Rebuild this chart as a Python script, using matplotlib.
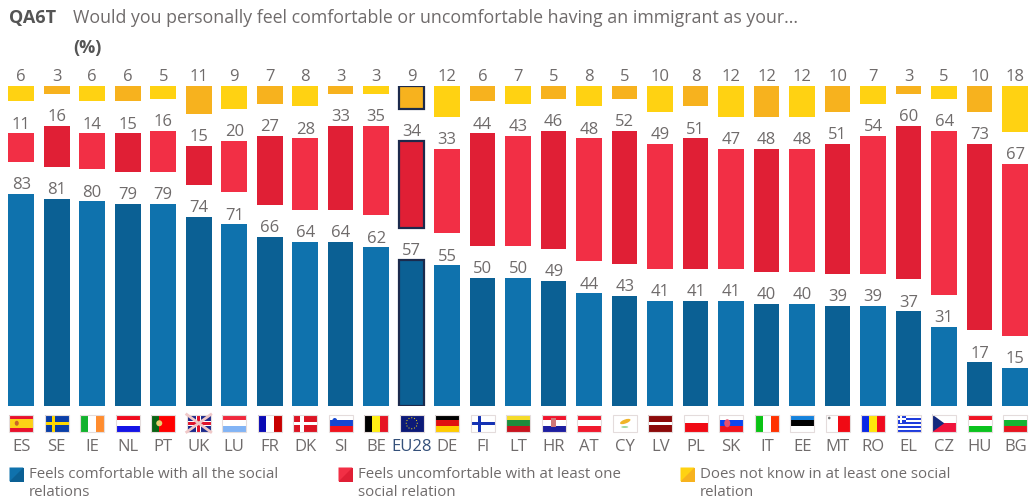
import numpy as np
import matplotlib
matplotlib.use("Agg")
import matplotlib.pyplot as plt
from matplotlib.patches import Rectangle, Polygon, Circle, Ellipse

plt.rcParams['font.family'] = ['Open Sans', 'DejaVu Sans']

# =====================
# Data
# =====================
countries = ["ES", "SE", "IE", "NL", "PT", "UK", "LU", "FR", "DK", "SI", "BE", "EU28", "DE", "FI", "LT",
             "HR", "AT", "CY", "LV", "PL", "SK", "IT", "EE", "MT", "RO", "EL", "CZ", "HU", "BG"]
comfortable = [83, 81, 80, 79, 79, 74, 71, 66, 64, 64, 62, 57, 55, 50, 50,
               49, 44, 43, 41, 41, 41, 40, 40, 39, 39, 37, 31, 17, 15]
uncomfortable = [11, 16, 14, 15, 16, 15, 20, 27, 28, 33, 35, 34, 33, 44, 43,
                 46, 48, 52, 49, 51, 47, 48, 48, 51, 54, 60, 64, 73, 67]
dont_know = [6, 3, 6, 6, 5, 11, 9, 7, 8, 3, 3, 9, 12, 6, 7,
             5, 8, 5, 10, 8, 12, 12, 12, 10, 7, 3, 5, 10, 18]

legend_labels = ["Feels comfortable with all the social\nrelations",
                 "Feels uncomfortable with at least one\nsocial relation",
                 "Does not know in at least one social\nrelation"]

flag_stripes = {
    "ES": ("h", ["#e8112d", "#fcd116", "#fcd116", "#e8112d"]),
    "SE": ("h", ["#0a3fa8"]),
    "IE": ("v", ["#12b32e", "#ffffff", "#ff8c2e"]),
    "NL": ("h", ["#f00a1e", "#ffffff", "#1414e6"]),
    "PT": ("v", ["#0a6414", "#ff0000", "#ff0000"]),
    "UK": ("h", ["#1c2a8c"]),
    "LU": ("h", ["#f0283c", "#ffffff", "#82b4f5"]),
    "FR": ("v", ["#0a0ab4", "#ffffff", "#c80000"]),
    "DK": ("h", ["#dc1423"]),
    "SI": ("h", ["#ffffff", "#1446d2", "#f0141e"]),
    "BE": ("v", ["#000000", "#ffee14", "#e61423"]),
    "EU28": ("h", ["#0c1a78"]),
    "DE": ("h", ["#000000", "#e01010", "#ffcc00"]),
    "FI": ("h", ["#ffffff"]),
    "LT": ("h", ["#f5dc28", "#1e8c3c", "#c8141e"]),
    "HR": ("h", ["#f0142d", "#ffffff", "#1e1ea0"]),
    "AT": ("h", ["#f0192d", "#ffffff", "#f0192d"]),
    "CY": ("h", ["#ffffff"]),
    "LV": ("h", ["#8c0a0a", "#8c0a0a", "#ffffff", "#8c0a0a", "#8c0a0a"]),
    "PL": ("h", ["#ffffff", "#f00a14"]),
    "SK": ("h", ["#ffffff", "#0a46f0", "#f0141e"]),
    "IT": ("v", ["#0ac314", "#ffffff", "#ff3200"]),
    "EE": ("h", ["#1482dc", "#000000", "#ffffff"]),
    "MT": ("v", ["#ffffff", "#f00a14"]),
    "RO": ("v", ["#0a28e6", "#ffe60a", "#f00a1e"]),
    "EL": ("h", ["#1e3cdc", "#ffffff", "#1e3cdc", "#ffffff", "#1e3cdc", "#ffffff", "#1e3cdc", "#ffffff", "#1e3cdc"]),
    "CZ": ("h", ["#ffffff", "#f0143c"]),
    "HU": ("h", ["#f01423", "#ffffff", "#0ac31e"]),
    "BG": ("h", ["#ffffff", "#14b432", "#e6141e"]),
}

# =====================
# Colours
# =====================
blue = ["#0f72ad", "#0b6094"]
red = ["#f22f45", "#e01f35"]
yellow = ["#ffd212", "#f7b21e"]
grey = "#6f6b6b"
navy = "#1c2a4c"
gap = 12.5

fig = plt.figure(figsize=(10.29, 5), dpi=100)

# =====================
# Bars
# =====================
ax = fig.add_axes([3.5 / 1029, (500 - 406) / 500, 1025.5 / 1029, 320 / 500])
x = np.arange(len(countries))
comfortable = np.array(comfortable)
uncomfortable = np.array(uncomfortable)
dont_know = np.array(dont_know)
eu = countries.index("EU28")


def bar_colors(pal):
    return [pal[i % 2] for i in range(len(countries))]


series = [(comfortable, np.zeros(len(x)), blue),
          (uncomfortable, comfortable + gap, red),
          (dont_know, comfortable + uncomfortable + 2 * gap, yellow)]

for vals, bottom, pal in series:
    bars = ax.bar(x, vals, 0.72, bottom=bottom, color=bar_colors(pal), linewidth=0)
    bars[eu].set_edgecolor(navy)
    bars[eu].set_linewidth(1.6)
    for xi, v, b in zip(x, vals, bottom):
        ax.annotate(str(v), (xi, b + v), xytext=(0, 0.5), textcoords="offset points",
                    ha="center", va="bottom", fontsize=12, color=grey)

ax.set_xlim(-0.5, 28.39)
ax.set_ylim(0, 125)
ax.axis("off")

# =====================
# Overlay in pixels: title, flags, legend
# =====================
ov = fig.add_axes([0, 0, 1, 1], zorder=-1)
ov.set_xlim(0, 1029)
ov.set_ylim(500, 0)
ov.axis("off")

ov.text(9, 18, "QA6T", fontsize=13, fontweight="bold", color="#555555", va="center")
ov.text(73, 18, "Would you personally feel comfortable or uncomfortable having an immigrant as your...",
        fontsize=12.75, color=grey, va="center")
ov.text(73, 48, "(%)", fontsize=13, fontweight="bold", color="#555555", va="center")


def draw_flag(code, cx):
    left, top, w, h = cx - 12, 414.5, 24, 17.5
    kind, cols = flag_stripes[code]
    n = len(cols)
    for i, c in enumerate(cols):
        if kind == "h":
            ov.add_patch(Rectangle((left, top + i * h / n), w, h / n, color=c, lw=0))
        else:
            ov.add_patch(Rectangle((left + i * w / n, top), w / n, h, color=c, lw=0))
    if code in ("SE", "FI", "DK"):
        c = {"SE": "#ffd800", "FI": "#1432b4", "DK": "#ffffff"}[code]
        ov.add_patch(Rectangle((left + 7, top), 3.5, h, color=c, lw=0))
        ov.add_patch(Rectangle((left, top + h / 2 - 1.75), w, 3.5, color=c, lw=0))
    elif code == "UK":
        ov.plot([left, left + w], [top, top + h], color="#f0c8c8", lw=2)
        ov.plot([left, left + w], [top + h, top], color="#f0c8c8", lw=2)
        ov.add_patch(Rectangle((left + 9.5, top), 5, h, color="#ffffff", lw=0))
        ov.add_patch(Rectangle((left, top + 6.2), w, 5, color="#ffffff", lw=0))
        ov.add_patch(Rectangle((left + 10.7, top), 2.6, h, color="#e0142d", lw=0))
        ov.add_patch(Rectangle((left, top + 7.4), w, 2.6, color="#e0142d", lw=0))
    elif code == "EU28":
        for a in np.arange(0, 2 * np.pi, np.pi / 6):
            ov.add_patch(Circle((cx + 5.5 * np.cos(a), top + h / 2 + 5.5 * np.sin(a)), 0.6, color="#d8c820", lw=0))
    elif code == "ES":
        ov.add_patch(Ellipse((left + 7.5, top + h / 2), 4, 5, color="#c86428", lw=0))
    elif code == "PT":
        ov.add_patch(Circle((left + 8, top + h / 2), 3, color="#e8d070", lw=0))
    elif code == "SI":
        ov.add_patch(Ellipse((left + 6, top + 6.5), 5, 6, color="#1446d2", lw=0))
    elif code == "HR":
        ov.add_patch(Rectangle((left + 9.5, top + 3.5), 5, 9, color="#d27878", lw=0))
    elif code == "CY":
        ov.add_patch(Ellipse((cx + 0.5, top + 7), 11, 4, angle=-20, color="#f0b428", lw=0))
        ov.add_patch(Ellipse((cx, top + 12.5), 7, 2, color="#a0d8a0", lw=0))
    elif code == "SK":
        ov.add_patch(Ellipse((left + 8, top + h / 2), 6, 8, color="#e8506e", lw=0))
    elif code == "MT":
        ov.add_patch(Circle((left + 3.5, top + 3.5), 1.3, color="#777777", lw=0))
    elif code == "EL":
        ov.add_patch(Rectangle((left, top), 9, 8, color="#1e3cdc", lw=0))
        ov.add_patch(Rectangle((left + 3.5, top), 2, 8, color="#ffffff", lw=0))
        ov.add_patch(Rectangle((left, top + 3), 9, 2, color="#ffffff", lw=0))
    elif code == "CZ":
        ov.add_patch(Polygon([(left, top), (left + 12, top + h / 2), (left, top + h)], color="#14287d", lw=0))
    ov.add_patch(Rectangle((left, top), w, h, fill=False, edgecolor="#e4dcdc", lw=0.8))


for i, code in enumerate(countries):
    cx = 21.25 + 35.5 * i
    draw_flag(code, cx)
    ov.text(cx, 447, code, ha="center", va="center", fontsize=12,
            color="#34507a" if code == "EU28" else grey)

# legend
for lx, pal, lab in zip([9, 338, 680], [blue, red, yellow], legend_labels):
    ov.add_patch(Rectangle((lx + 0.5, 467.5), 14, 14, color=pal[1], lw=0))
    ov.add_patch(Polygon([(lx + 0.5, 481.5), (lx + 14.5, 467.5), (lx + 0.5, 467.5)], color=pal[0], lw=0))
    ov.text(lx + 20, 475, lab.split("\n")[0], fontsize=10.8, color=grey, va="center")
    ov.text(lx + 20, 493, lab.split("\n")[1], fontsize=10.8, color=grey, va="center")

fig.savefig("out.png", dpi=100)
